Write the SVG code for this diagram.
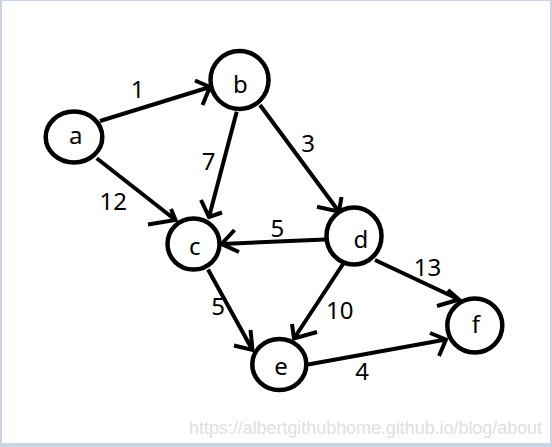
<svg xmlns="http://www.w3.org/2000/svg" width="552" height="447" viewBox="0 0 552 447">
<style>
.node{fill:#fff;stroke:#000;stroke-width:4.5}
.lbl{font-family:"Noto Sans","Open Sans","DejaVu Sans",sans-serif;font-size:24px;fill:#000;text-anchor:middle}
.edge{fill:none;stroke:#000;stroke-width:4;stroke-linecap:butt;stroke-linejoin:miter}
.frame{fill:#c8d3e3}
.wm{font-family:"Liberation Sans",Arial,sans-serif;font-size:18px;fill:#e0e0e0}
</style>
<rect width="552" height="447" fill="#fff"/>
<g id="frame">
<rect class="frame" x="0" y="0" width="552" height="1"/>
<rect class="frame" x="0" y="0" width="2" height="447"/>
<rect class="frame" x="550" y="0" width="2" height="447"/>
<rect class="frame" x="0" y="443" width="552" height="4"/>
</g>
<g id="connectors">
<path id="e-a-b" class="edge" d="M100 121 L210 87 M195 80.5 L210 87 L202.5 105"/>
<path id="e-a-c" class="edge" d="M96.7 158.3 L175.5 220 M148 224.5 L175.5 220 L171 209"/>
<path id="e-b-c" class="edge" d="M236.7 111.7 L209 217 M201 200 L209 217 L222 212.5"/>
<path id="e-b-d" class="edge" d="M260 105 L339 211.7 M317 206.7 L339 211.7 L341.5 197"/>
<path id="e-d-c" class="edge" d="M325 239.5 L221.5 244 M234.5 230 L221.5 244 L239 252"/>
<path id="e-d-e" class="edge" d="M343 264 L294 338.5 M292 324 L294 338.5 L317 332"/>
<path id="e-d-f" class="edge" d="M375 260 L459 299.5 M448 290 L459 299.5 L437 306"/>
<path id="e-c-e" class="edge" d="M208 269.5 L252.5 350 M234 345.5 L252.5 350 L250.5 330"/>
<path id="e-e-f" class="edge" d="M308 364.5 L446 339.5 M430 333 L446 339.5 L439 356"/>
<text class="lbl" x="137.5" y="98">1</text>
<text class="lbl" x="208.6" y="170">7</text>
<text class="lbl" x="308" y="152">3</text>
<text class="lbl" x="113.2" y="210">12</text>
<text class="lbl" x="277.3" y="237">5</text>
<text class="lbl" x="427.5" y="276">13</text>
<text class="lbl" x="218" y="315">5</text>
<text class="lbl" x="339.8" y="318.5">10</text>
<text class="lbl" x="362" y="380">4</text>
</g>
<g id="node-a"><ellipse class="node" cx="74" cy="137" rx="28.3" ry="25.5"/><text class="lbl" x="75.8" y="144.3">a</text></g>
<g id="node-b"><ellipse class="node" cx="239.5" cy="80" rx="29" ry="29"/><text class="lbl" x="240.5" y="93.3">b</text></g>
<g id="node-c"><ellipse class="node" cx="193.5" cy="244" rx="26" ry="25.5"/><text class="lbl" x="194.7" y="255">c</text></g>
<g id="node-d"><ellipse class="node" cx="354" cy="236" rx="27.5" ry="28.5"/><text class="lbl" x="361" y="248.3">d</text></g>
<g id="node-e"><ellipse class="node" cx="279.3" cy="364.5" rx="27" ry="25.5"/><text class="lbl" x="281" y="375">e</text></g>
<g id="node-f"><ellipse class="node" cx="474.8" cy="325.5" rx="27.5" ry="27"/><text class="lbl" x="476" y="333.3">f</text></g>
<text class="wm" x="189" y="434" textLength="353" lengthAdjust="spacingAndGlyphs">https://albertgithubhome.github.io/blog/about</text>
</svg>
